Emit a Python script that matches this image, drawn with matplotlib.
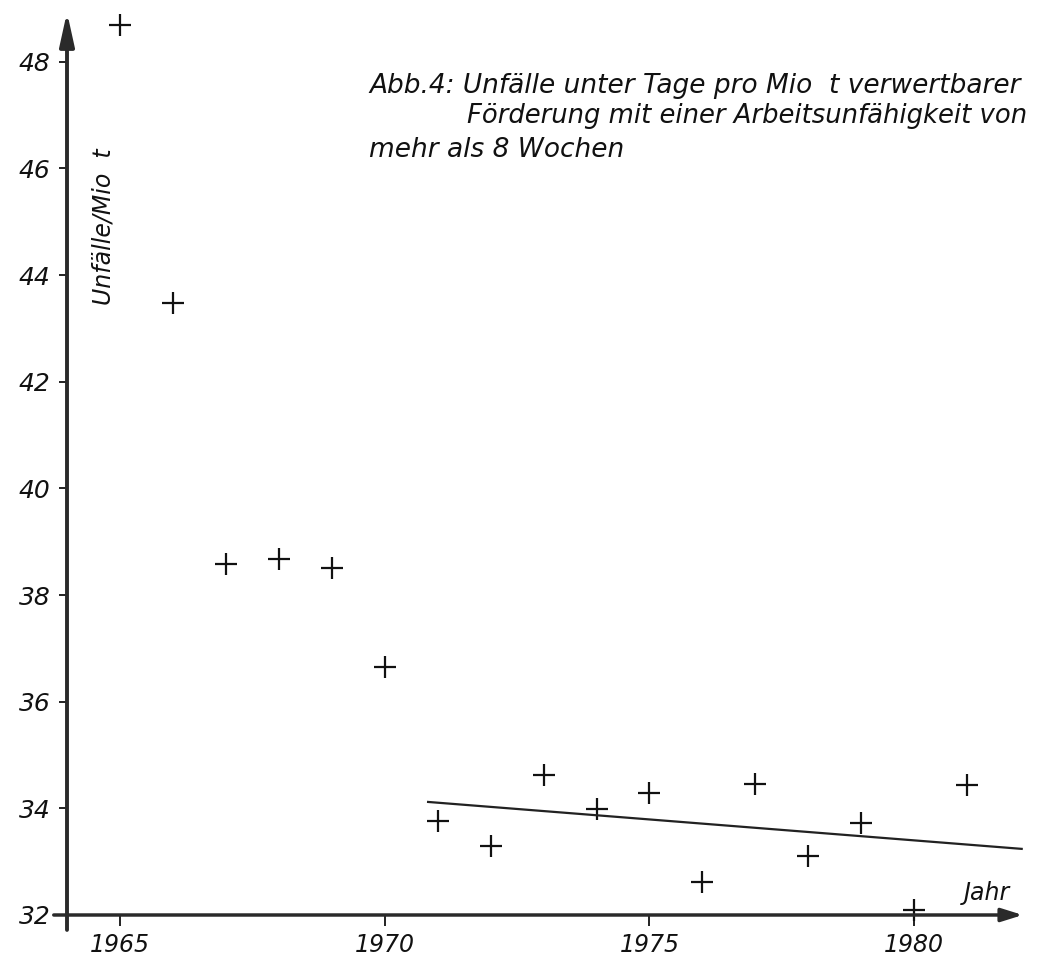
import matplotlib
matplotlib.use("Agg")
import matplotlib.pyplot as plt

# data
years = [1965, 1966, 1967, 1968, 1969, 1970, 1971, 1972, 1973,
         1974, 1975, 1976, 1977, 1978, 1979, 1980, 1981]
accidents = [48.68, 43.47, 38.58, 38.67, 38.50, 36.65, 33.76, 33.29, 34.62,
             33.98, 34.28, 32.62, 34.45, 33.11, 33.73, 32.09, 34.44]

trend_x = [1970.82, 1982.03]
trend_y = [34.12, 33.24]

x_ticks = [1965, 1970, 1975, 1980]
y_ticks = [32, 34, 36, 38, 40, 42, 44, 46, 48]

title_lines = ["Abb.4: Unfälle unter Tage pro Mio  t verwertbarer",
               "Förderung mit einer Arbeitsunfähigkeit von",
               "mehr als 8 Wochen"]

W, H = 1037, 961
ink = "#111111"
axis_ink = "#2a2a2a"
font = dict(family="DejaVu Sans", style="oblique", color=ink)

fig = plt.figure(figsize=(W / 100, H / 100), dpi=100)
# axes placed in pixel terms (x: 1964 -> px 67, 53 px/year; y: 32 -> px 915, 53.3 px/unit)
x0, x1 = 1963.7, 1982.1
y0, y1 = 31.7, 48.95
px_l = 67 + (x0 - 1964) * 52.95
px_r = 67 + (x1 - 1964) * 52.95
py_b = 915 - (y0 - 32) * 53.33
py_t = 915 - (y1 - 32) * 53.33
ax = fig.add_axes([px_l / W, 1 - py_b / H, (px_r - px_l) / W, (py_b - py_t) / H])
ax.set_xlim(x0, x1)
ax.set_ylim(y0, y1)
# ticks sit on the drawn axis lines, spines themselves are hidden
ax.spines["left"].set_position(("data", 1964))
ax.spines["bottom"].set_position(("data", 32))
for s in ax.spines.values():
    s.set_visible(False)

# axis lines with arrow heads
ax.annotate("", xy=(1964, 48.93), xytext=(1964, 31.72),
            arrowprops=dict(arrowstyle="-|>,head_length=1.0,head_width=0.22",
                            mutation_scale=20, lw=2.8, color=axis_ink,
                            shrinkA=0, shrinkB=0), annotation_clip=False)
ax.annotate("", xy=(1982.05, 32), xytext=(1963.75, 32),
            arrowprops=dict(arrowstyle="-|>,head_length=0.8,head_width=0.25",
                            mutation_scale=16, lw=2.5, color=axis_ink,
                            shrinkA=0, shrinkB=0), annotation_clip=False)

ax.set_xticks(x_ticks)
ax.set_yticks(y_ticks)
ax.tick_params(axis="x", direction="out", length=8, width=1.3, color=ink, pad=5)
ax.tick_params(axis="y", direction="out", length=6, width=1.3, color=ink, pad=6)
ax.set_xticklabels([str(v) for v in x_ticks], fontsize=17, **font)
ax.set_yticklabels([str(v) for v in y_ticks], fontsize=18, **font)

ax.plot(years, accidents, linestyle="none", marker="+", markersize=16,
        markeredgewidth=1.6, color=ink, clip_on=False)
ax.plot(trend_x, trend_y, color="#222222", lw=1.6, clip_on=False)

ax.text(1964.68, 44.9, "Unfälle/Mio  t", rotation=90, fontsize=17,
        ha="center", va="center", **font)
ax.text(1981.37, 32.41, "Jahr", fontsize=17, ha="center", va="center", **font)

baselines = [93, 123, 157]
lefts = [369, 467, 369]
sizes = [19, 18.6, 19]
for txt, b, l, fs in zip(title_lines, baselines, lefts, sizes):
    fig.text(l / W, 1 - b / H, txt, fontsize=fs, ha="left", va="baseline", **font)

fig.savefig("out.png", dpi=100)
